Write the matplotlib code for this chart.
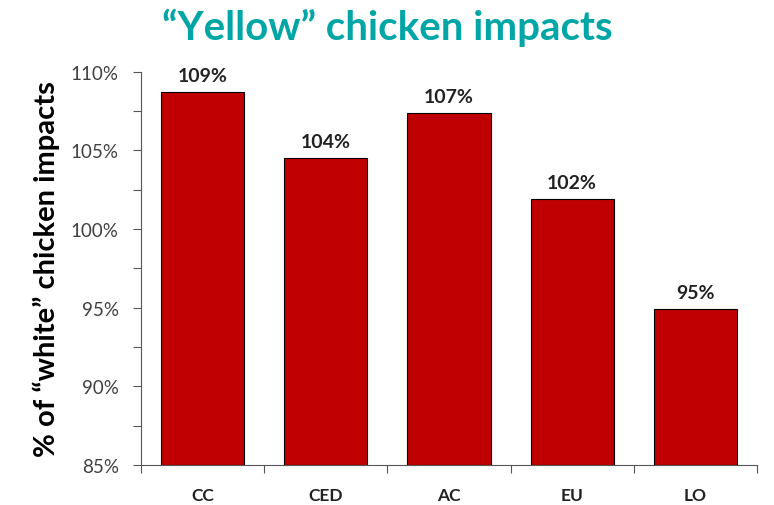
import matplotlib.pyplot as plt
from matplotlib.ticker import MultipleLocator, FuncFormatter

plt.rcParams['font.family'] = ['Lato', 'DejaVu Sans']

regions = ["CC", "CED", "AC", "EU", "LO"]
impact_pct = [108.7, 104.5, 107.4, 101.9, 94.95]

fig = plt.figure(figsize=(7.74, 5.06), dpi=100)
ax = fig.add_axes([0.182, 0.079, 0.796, 0.777])

x = range(len(regions))
ax.bar(x, [v - 85 for v in impact_pct], bottom=85, width=0.675,
       color="#C00000", edgecolor="black", linewidth=0.8, zorder=2)

for i, v in enumerate(impact_pct):
    ax.text(i, v + 0.5, f"{v:.0f}%", ha="center", va="bottom",
            fontsize=14, fontweight="bold", color="#222222")

ax.set_xlim(-0.5, len(regions) - 0.5)
ax.set_ylim(85, 110)

ax.yaxis.set_major_locator(MultipleLocator(5))
ax.yaxis.set_minor_locator(MultipleLocator(2.5))
ax.yaxis.set_major_formatter(FuncFormatter(lambda v, p: f"{v:.0f}%"))
ax.tick_params(axis="y", which="both", direction="out", length=6,
               width=0.8, color="#555555", labelsize=13.5,
               labelcolor="#404040", pad=10)

# category ticks sit on the boundaries between bars
ax.set_xticks([i - 0.5 for i in range(len(regions) + 1)], minor=False)
ax.set_xticklabels([])
ax.set_xticks(list(x), minor=True)
ax.set_xticklabels(regions, minor=True)
ax.tick_params(axis="x", which="major", direction="out", length=6,
               width=0.8, color="#555555")
ax.tick_params(axis="x", which="minor", length=0, pad=16,
               labelsize=12.5)
for lbl in ax.get_xticklabels(minor=True):
    lbl.set_fontweight("bold")
    lbl.set_color("#222222")

for side in ["top", "right"]:
    ax.spines[side].set_visible(False)
for side in ["left", "bottom"]:
    ax.spines[side].set_color("#555555")
    ax.spines[side].set_linewidth(0.8)

ax.set_ylabel("% of \u201cwhite\u201d chicken impacts", fontsize=21,
              fontweight="bold", color="black", labelpad=8)

fig.text(0.5, 0.945, "\u201cYellow\u201d chicken impacts", ha="center",
         va="center", fontsize=29, fontweight="bold", color="#00A6A6")

fig.savefig("out.png", dpi=100)
